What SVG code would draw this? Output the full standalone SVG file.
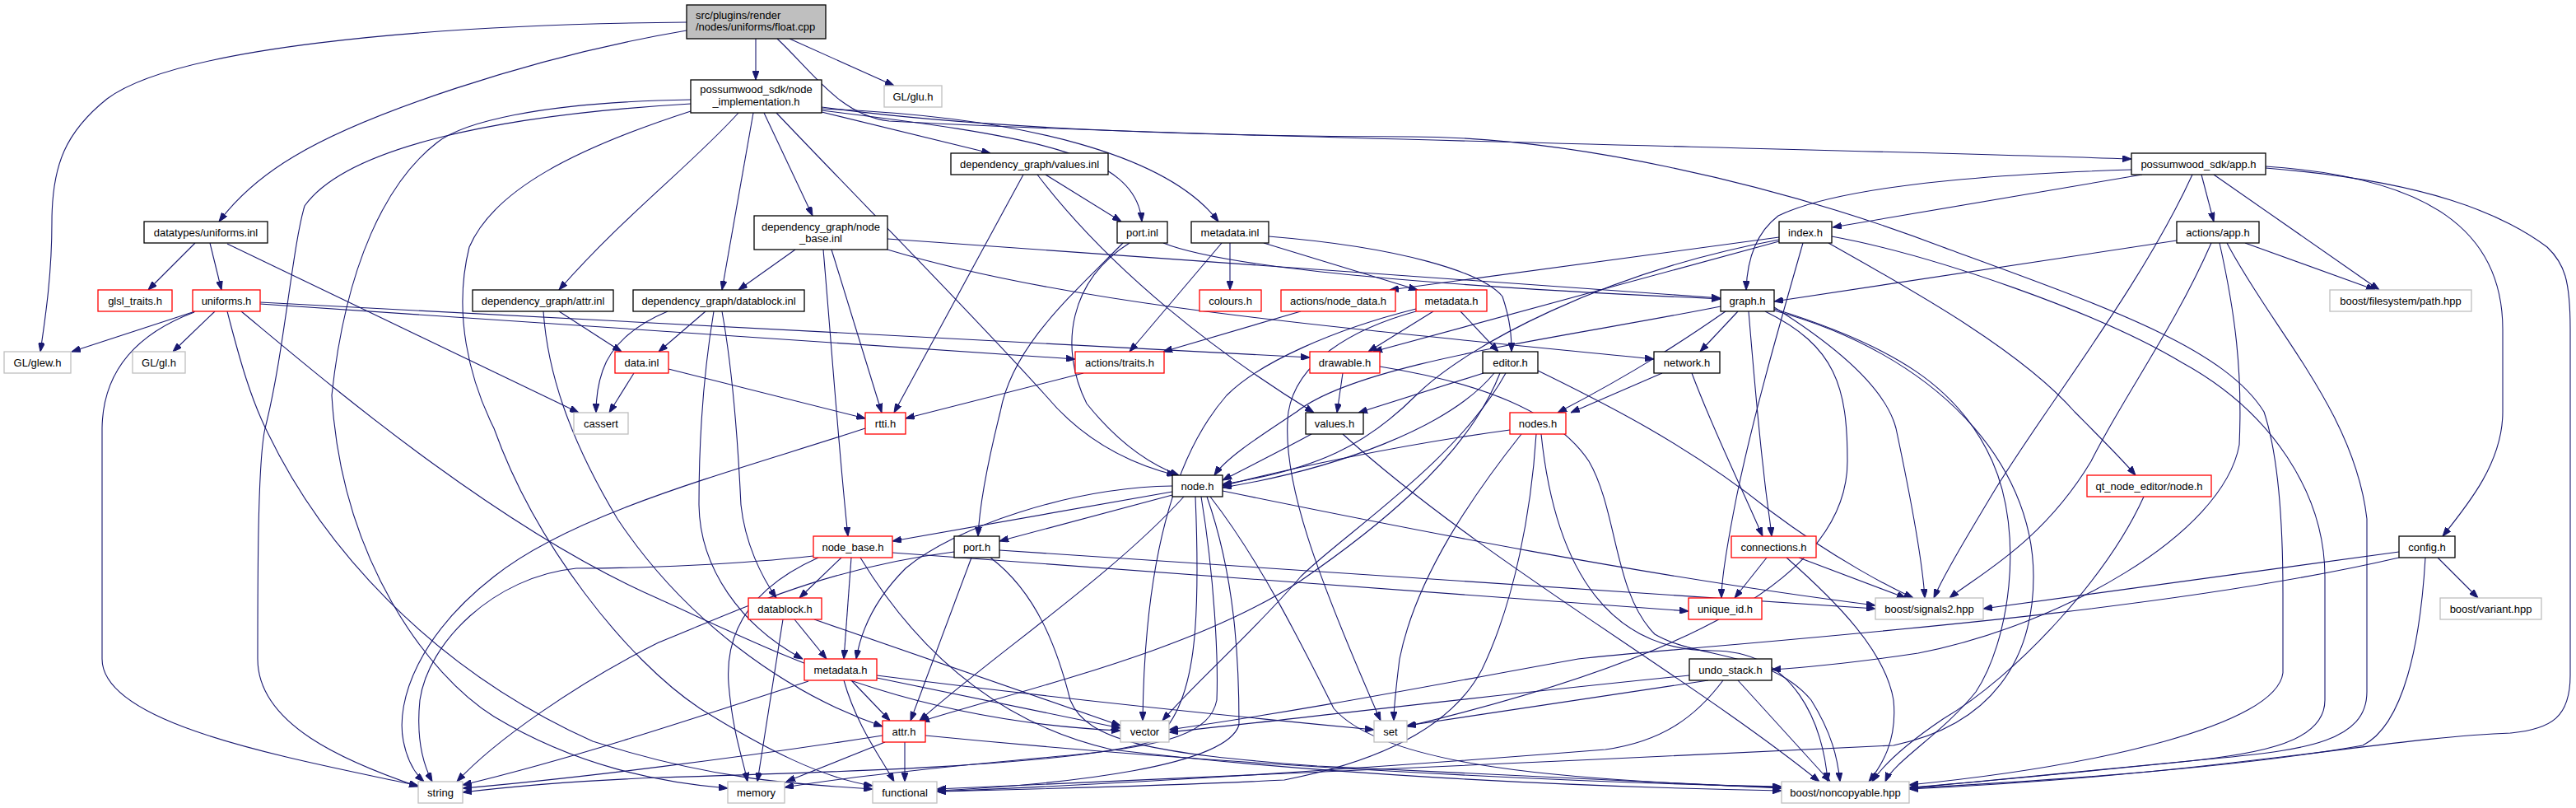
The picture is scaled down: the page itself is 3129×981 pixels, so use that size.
<svg xmlns="http://www.w3.org/2000/svg" width="3129" height="981" viewBox="0 0 3129 981">
<style>
rect{fill:#fff;stroke:#000;stroke-width:1.3}
.r rect{stroke:#ff0000}
.g rect{stroke:#bfbfbf}
.root rect{fill:#bfbfbf}
text{font-family:"Liberation Sans",Arial,sans-serif;font-size:13px;text-anchor:middle;fill:#000}
.l{text-anchor:start}
#edges path{fill:none;stroke:#191970;stroke-width:1.1;marker-end:url(#a)}
</style>
<defs>
<marker id="a" markerUnits="userSpaceOnUse" markerWidth="11" markerHeight="8" refX="11" refY="4" orient="auto"><path d="M0,0 L11,4 L0,8 z" fill="#191970" stroke="#191970" stroke-width="1"/></marker>
</defs>
<rect x="0" y="0" width="3129" height="981" style="fill:#fff;stroke:none"/>
<g id="edges">
<path d="M918,47 L918,97"/>
<path d="M959,47 L1086,104"/>
<path d="M834,37 C640,70 440,140 357,190 C320,212 288,240 266,269"/>
<path d="M834,27 C500,30 210,60 130,120 C80,160 63,200 63,270 C63,330 56,380 49,427"/>
<path d="M944,47 C985,85 1020,140 1080,147 C1400,165 2200,180 2589,193"/>
<path d="M998,136 L1203,186"/>
<path d="M928,137 L987,262"/>
<path d="M915,137 L877,352"/>
<path d="M897,137 C840,200 760,260 679,352"/>
<path d="M943,137 C1060,260 1180,380 1270,480 C1320,540 1380,565 1428,577"/>
<path d="M998,134 C1250,165 1380,185 1387,269"/>
<path d="M998,132 C1250,142 1420,190 1480,269"/>
<path d="M839,126 C600,140 420,180 370,250 C355,300 345,430 322,520 C313,560 313,700 313,800 C313,880 420,925 508,955"/>
<path d="M839,121 C650,124 560,150 531,173 C470,220 420,320 403,480 C415,680 520,820 600,870 C700,930 800,950 884,957"/>
<path d="M839,135 C700,180 600,230 570,300 C550,380 570,460 600,520 C650,660 760,800 850,860 C930,910 1000,945 1060,954"/>
<path d="M998,130 C1200,158 1500,166 1713,166 C1900,166 2150,220 2360,300 C2550,370 2700,420 2750,500 C2770,560 2773,650 2773,720 L2773,817 C2765,880 2550,930 2319,953"/>
<path d="M237,295 L180,352"/>
<path d="M255,295 L269,352"/>
<path d="M276,296 L703,501"/>
<path d="M237,378 L87,427"/>
<path d="M261,378 L210,427"/>
<path d="M236,379 C180,400 125,440 124,520 L124,800 C124,880 350,920 508,954"/>
<path d="M316,369 L1306,436"/>
<path d="M316,367 L1591,434"/>
<path d="M293,378 C380,450 600,640 800,727 C950,795 1100,875 1361,887"/>
<path d="M276,378 C292,440 305,485 325,525 C390,660 520,810 720,900 C860,945 960,952 1060,958"/>
<path d="M679,378 L755,427"/>
<path d="M660,378 C665,450 690,530 750,630 C830,750 950,840 1072,882"/>
<path d="M857,378 L800,427"/>
<path d="M811,378 C770,395 742,420 732,450 C725,470 724,485 724,501"/>
<path d="M877,378 C890,450 897,550 900,613 C905,660 925,700 943,726"/>
<path d="M867,378 C855,450 849,520 849,613 C850,690 900,760 975,800"/>
<path d="M966,303 L897,352"/>
<path d="M1000,303 C1010,420 1020,560 1030,651"/>
<path d="M1010,303 L1071,501"/>
<path d="M1078,290 L2090,362"/>
<path d="M1078,303 C1300,370 1600,395 2009,436"/>
<path d="M1270,212 L1362,269"/>
<path d="M1243,212 L1086,501"/>
<path d="M1260,212 C1350,330 1480,430 1596,501"/>
<path d="M1372,295 C1300,340 1285,420 1320,490 C1360,540 1400,565 1432,577"/>
<path d="M1364,295 C1300,360 1230,420 1215,500 C1200,560 1190,610 1188,651"/>
<path d="M1413,295 C1500,330 1800,350 2090,363"/>
<path d="M1494,295 L1494,352"/>
<path d="M1484,295 L1372,427"/>
<path d="M1535,295 L1722,352"/>
<path d="M1541,287 C1700,300 1800,330 1825,360 C1835,390 1836,410 1836,427"/>
<path d="M1580,378 L1413,427"/>
<path d="M1741,378 L1662,427"/>
<path d="M1774,378 L1820,427"/>
<path d="M1720,378 C1640,400 1575,440 1565,500 C1555,580 1600,700 1677,875"/>
<path d="M1720,375 C1620,400 1530,440 1490,480 C1420,560 1390,700 1388,875"/>
<path d="M2161,288 L1688,352"/>
<path d="M2161,293 L1668,427"/>
<path d="M2161,291 C1950,330 1780,420 1720,480 C1660,540 1600,570 1485,588"/>
<path d="M2190,295 C2160,400 2131,500 2110,600 C2100,650 2091,700 2091,726"/>
<path d="M2221,295 C2300,340 2450,420 2520,500 C2560,540 2580,560 2594,577"/>
<path d="M2225,287 C2350,310 2550,380 2650,440 C2760,500 2824,600 2824,700 L2824,850 C2824,900 2750,915 2650,925 C2500,940 2400,950 2319,956"/>
<path d="M2090,372 C1900,410 1650,440 1575,500 C1530,530 1490,555 1475,577"/>
<path d="M2096,378 C2050,410 1990,450 1892,501"/>
<path d="M2111,378 L2065,427"/>
<path d="M2124,378 C2130,450 2136,520 2142,570 C2146,610 2150,630 2152,651"/>
<path d="M2155,373 C2230,420 2290,470 2303,520 C2320,600 2335,680 2338,726"/>
<path d="M2155,375 C2300,420 2380,470 2420,560 C2460,650 2440,780 2400,840 C2360,890 2300,925 2290,949"/>
<path d="M2144,378 C2230,420 2244,470 2244,560 C2244,700 2050,800 1709,882"/>
<path d="M2155,377 C2350,430 2470,560 2470,700 C2470,800 2420,880 2300,905 C1900,925 1400,945 1138,958"/>
<path d="M2019,453 L1908,501"/>
<path d="M2055,453 C2080,520 2110,580 2141,651"/>
<path d="M1631,453 L1624,501"/>
<path d="M1676,445 C1800,465 1890,500 1930,560 C1965,620 1960,720 2010,770 C2060,800 2150,790 2200,850 C2225,890 2232,920 2235,949"/>
<path d="M1802,453 L1650,501"/>
<path d="M1815,453 C1760,520 1620,570 1485,592"/>
<path d="M1822,453 C1780,560 1660,650 1580,705 C1450,790 1250,835 1118,876"/>
<path d="M1829,453 C1770,560 1630,650 1580,700 C1520,770 1450,830 1412,875"/>
<path d="M1868,450 C1950,490 2050,540 2150,620 C2230,680 2300,715 2324,726"/>
<path d="M1834,522 C1700,540 1560,570 1485,590"/>
<path d="M1848,527 C1790,600 1720,700 1700,800 C1695,840 1693,860 1693,875"/>
<path d="M1866,527 C1860,620 1840,730 1800,813 C1770,870 1700,920 1560,947 C1400,955 1250,958 1138,961"/>
<path d="M1872,527 C1890,700 1960,790 2080,790 C2180,790 2215,880 2220,949"/>
<path d="M1593,527 C1560,545 1520,565 1485,583"/>
<path d="M1631,527 C1800,680 2050,820 2210,949"/>
<path d="M2146,677 L2107,726"/>
<path d="M2185,677 L2315,726"/>
<path d="M2170,677 C2230,730 2290,790 2300,850 C2305,900 2285,930 2270,949"/>
<path d="M1424,597 L1084,657"/>
<path d="M1424,601 L1214,657"/>
<path d="M1424,590 C1300,592 1160,640 1100,690 C1060,730 1045,770 1040,800"/>
<path d="M1438,603 C1350,700 1200,800 1117,875"/>
<path d="M1459,603 C1475,700 1480,800 1478,850 C1470,890 1420,905 1300,917 C1100,935 1000,948 953,956"/>
<path d="M1466,603 C1500,700 1505,800 1505,880 C1490,930 1300,952 1138,960"/>
<path d="M1470,603 C1530,680 1580,780 1620,860 C1680,930 1900,948 2164,956"/>
<path d="M1485,596 C1700,640 2000,700 2278,735"/>
<path d="M1452,603 C1458,750 1455,860 1400,900 C1300,930 1000,938 800,944 C700,948 620,955 562,962"/>
<path d="M2604,603 C2560,700 2450,820 2360,873 C2320,900 2290,925 2274,949"/>
<path d="M2589,206 C2400,212 2230,228 2160,262 C2130,285 2122,320 2121,352"/>
<path d="M2602,212 L2226,276"/>
<path d="M2674,212 L2689,269"/>
<path d="M2689,212 L2890,352"/>
<path d="M2663,212 C2600,350 2480,500 2420,600 C2390,650 2360,700 2349,726"/>
<path d="M2752,202 C2950,215 3040,280 3040,400 L3040,500 C3040,560 3000,610 2967,651"/>
<path d="M2752,204 C2950,220 3040,260 3094,300 C3115,320 3122,340 3122,400 L3122,820 C3122,870 3100,885 3050,890 C2900,895 2700,940 2319,958"/>
<path d="M2644,292 L2155,366"/>
<path d="M2727,295 L2885,352"/>
<path d="M2686,295 C2640,400 2580,480 2540,560 C2480,660 2400,700 2368,726"/>
<path d="M2696,295 C2715,380 2724,450 2720,540 C2700,650 2500,760 2330,793 C2250,805 2200,810 2152,813"/>
<path d="M2705,295 C2760,400 2860,500 2875,630 L2875,840 C2875,900 2800,910 2700,920 C2550,935 2400,950 2319,957"/>
<path d="M2914,670 L2409,739"/>
<path d="M2914,677 C2600,750 2100,780 1917,800 C1750,830 1600,860 1420,886"/>
<path d="M2961,677 L3010,726"/>
<path d="M2946,677 C2940,780 2920,880 2870,905 C2700,935 2450,950 2319,957"/>
<path d="M2052,820 C1800,845 1600,870 1420,889"/>
<path d="M2075,826 L1709,881"/>
<path d="M2111,826 L2223,949"/>
<path d="M2093,826 C2060,870 2020,900 1950,910 C1700,930 1400,950 1138,961"/>
<path d="M1051,520 C900,570 700,620 600,700 C510,770 480,850 490,900 C495,925 505,940 515,949"/>
<path d="M812,448 L1051,508"/>
<path d="M770,453 L740,501"/>
<path d="M1316,453 L1100,508"/>
<path d="M1022,677 L971,726"/>
<path d="M1034,677 L1025,800"/>
<path d="M994,677 C920,710 880,760 885,830 C890,890 902,920 908,949"/>
<path d="M988,675 C900,685 780,690 700,690 C600,700 520,780 510,850 C505,900 515,930 525,949"/>
<path d="M1084,671 L2051,742"/>
<path d="M1045,677 C1120,800 1220,880 1350,910 C1600,940 1900,955 2164,960"/>
<path d="M1159,670 C1000,690 900,740 800,780 C700,830 600,900 555,949"/>
<path d="M1180,677 L1106,875"/>
<path d="M1214,668 L2278,739"/>
<path d="M1203,677 C1260,720 1285,790 1300,850 C1320,900 1400,915 1600,930 C1900,945 2050,952 2164,957"/>
<path d="M951,752 L920,949"/>
<path d="M965,752 L1004,800"/>
<path d="M989,752 L1361,881"/>
<path d="M1034,826 L1081,875"/>
<path d="M1025,826 C1040,880 1070,920 1086,949"/>
<path d="M982,827 C850,870 700,920 562,953"/>
<path d="M1065,823 L1361,884"/>
<path d="M1065,820 C1300,850 1500,870 1669,886"/>
<path d="M1075,901 L955,949"/>
<path d="M1099,901 L1099,949"/>
<path d="M1072,893 C900,920 700,945 562,957"/>
<path d="M1124,893 C1500,930 1900,950 2164,955"/>
</g>
<g id="n_float" class="root"><rect x="834" y="6" width="169" height="41"/><text class="l" x="845" y="23">src/plugins/render</text><text class="l" x="845" y="37">/nodes/uniforms/float.cpp</text></g>
<g id="n_nimpl"><rect x="839" y="97" width="159" height="40"/><text x="918.5" y="113">possumwood_sdk/node</text><text x="918.5" y="128">_implementation.h</text></g>
<g id="n_glu" class="g"><rect x="1074" y="104" width="70" height="26"/><text x="1109" y="121.5">GL/glu.h</text></g>
<g id="n_uinl"><rect x="175" y="269" width="150" height="26"/><text x="250" y="286.5">datatypes/uniforms.inl</text></g>
<g id="n_valinl"><rect x="1155" y="186" width="191" height="26"/><text x="1250.5" y="203.5">dependency_graph/values.inl</text></g>
<g id="n_nbinl"><rect x="916" y="262" width="162" height="41"/><text x="997" y="279.5">dependency_graph/node</text><text x="997" y="293.5">_base.inl</text></g>
<g id="n_portinl"><rect x="1357" y="269" width="61" height="26"/><text x="1387.5" y="286.5">port.inl</text></g>
<g id="n_mdinl"><rect x="1447" y="269" width="94" height="26"/><text x="1494" y="286.5">metadata.inl</text></g>
<g id="n_index"><rect x="2161" y="269" width="64" height="26"/><text x="2193" y="286.5">index.h</text></g>
<g id="n_app"><rect x="2589" y="186" width="163" height="26"/><text x="2670.5" y="203.5">possumwood_sdk/app.h</text></g>
<g id="n_aapp"><rect x="2644" y="269" width="100" height="26"/><text x="2694" y="286.5">actions/app.h</text></g>
<g id="n_glsl" class="r"><rect x="119" y="352" width="90" height="26"/><text x="164" y="369.5">glsl_traits.h</text></g>
<g id="n_unih" class="r"><rect x="234" y="352" width="82" height="26"/><text x="275" y="369.5">uniforms.h</text></g>
<g id="n_attrinl"><rect x="574" y="352" width="171" height="26"/><text x="659.5" y="369.5">dependency_graph/attr.inl</text></g>
<g id="n_dbinl"><rect x="769" y="352" width="208" height="26"/><text x="873" y="369.5">dependency_graph/datablock.inl</text></g>
<g id="n_colours" class="r"><rect x="1457" y="352" width="75" height="26"/><text x="1494.5" y="369.5">colours.h</text></g>
<g id="n_nodedata" class="r"><rect x="1556" y="352" width="139" height="26"/><text x="1625.5" y="369.5">actions/node_data.h</text></g>
<g id="n_mdtop" class="r"><rect x="1720" y="352" width="86" height="26"/><text x="1763" y="369.5">metadata.h</text></g>
<g id="n_graph"><rect x="2090" y="352" width="65" height="26"/><text x="2122.5" y="369.5">graph.h</text></g>
<g id="n_fspath" class="g"><rect x="2830" y="352" width="172" height="26"/><text x="2916" y="369.5">boost/filesystem/path.hpp</text></g>
<g id="n_glew" class="g"><rect x="5" y="427" width="81" height="26"/><text x="45.5" y="444.5">GL/glew.h</text></g>
<g id="n_gl" class="g"><rect x="161" y="427" width="64" height="26"/><text x="193" y="444.5">GL/gl.h</text></g>
<g id="n_datainl" class="r"><rect x="747" y="427" width="65" height="26"/><text x="779.5" y="444.5">data.inl</text></g>
<g id="n_traits" class="r"><rect x="1306" y="427" width="108" height="26"/><text x="1360" y="444.5">actions/traits.h</text></g>
<g id="n_drawable" class="r"><rect x="1591" y="427" width="85" height="26"/><text x="1633.5" y="444.5">drawable.h</text></g>
<g id="n_editor"><rect x="1801" y="427" width="67" height="26"/><text x="1834.5" y="444.5">editor.h</text></g>
<g id="n_network"><rect x="2009" y="427" width="80" height="26"/><text x="2049" y="444.5">network.h</text></g>
<g id="n_cassert" class="g"><rect x="697" y="501" width="66" height="26"/><text x="730" y="518.5">cassert</text></g>
<g id="n_rtti" class="r"><rect x="1051" y="501" width="49" height="26"/><text x="1075.5" y="518.5">rtti.h</text></g>
<g id="n_valuesh"><rect x="1586" y="501" width="70" height="26"/><text x="1621" y="518.5">values.h</text></g>
<g id="n_nodesh" class="r"><rect x="1834" y="501" width="68" height="26"/><text x="1868" y="518.5">nodes.h</text></g>
<g id="n_nodeh"><rect x="1424" y="577" width="61" height="26"/><text x="1454.5" y="594.5">node.h</text></g>
<g id="n_qtnode" class="r"><rect x="2535" y="577" width="151" height="26"/><text x="2610.5" y="594.5">qt_node_editor/node.h</text></g>
<g id="n_nbh" class="r"><rect x="988" y="651" width="96" height="26"/><text x="1036" y="668.5">node_base.h</text></g>
<g id="n_porth"><rect x="1159" y="651" width="55" height="26"/><text x="1186.5" y="668.5">port.h</text></g>
<g id="n_conn" class="r"><rect x="2103" y="651" width="103" height="26"/><text x="2154.5" y="668.5">connections.h</text></g>
<g id="n_config"><rect x="2914" y="651" width="68" height="26"/><text x="2948" y="668.5">config.h</text></g>
<g id="n_dbh" class="r"><rect x="909" y="726" width="89" height="26"/><text x="953.5" y="743.5">datablock.h</text></g>
<g id="n_uid" class="r"><rect x="2051" y="726" width="89" height="26"/><text x="2095.5" y="743.5">unique_id.h</text></g>
<g id="n_sig" class="g"><rect x="2278" y="726" width="131" height="26"/><text x="2343.5" y="743.5">boost/signals2.hpp</text></g>
<g id="n_variant" class="g"><rect x="2964" y="726" width="123" height="26"/><text x="3025.5" y="743.5">boost/variant.hpp</text></g>
<g id="n_mdlow" class="r"><rect x="977" y="800" width="88" height="26"/><text x="1021" y="817.5">metadata.h</text></g>
<g id="n_undo"><rect x="2052" y="800" width="100" height="26"/><text x="2102" y="817.5">undo_stack.h</text></g>
<g id="n_attrh" class="r"><rect x="1072" y="875" width="52" height="26"/><text x="1098" y="892.5">attr.h</text></g>
<g id="n_vector" class="g"><rect x="1361" y="875" width="59" height="26"/><text x="1390.5" y="892.5">vector</text></g>
<g id="n_set" class="g"><rect x="1669" y="875" width="40" height="26"/><text x="1689" y="892.5">set</text></g>
<g id="n_memory" class="g"><rect x="884" y="949" width="69" height="26"/><text x="918.5" y="966.5">memory</text></g>
<g id="n_functional" class="g"><rect x="1060" y="949" width="78" height="26"/><text x="1099" y="966.5">functional</text></g>
<g id="n_string" class="g"><rect x="508" y="949" width="54" height="26"/><text x="535" y="966.5">string</text></g>
<g id="n_nonc" class="g"><rect x="2164" y="949" width="155" height="26"/><text x="2241.5" y="966.5">boost/noncopyable.hpp</text></g>
</svg>
